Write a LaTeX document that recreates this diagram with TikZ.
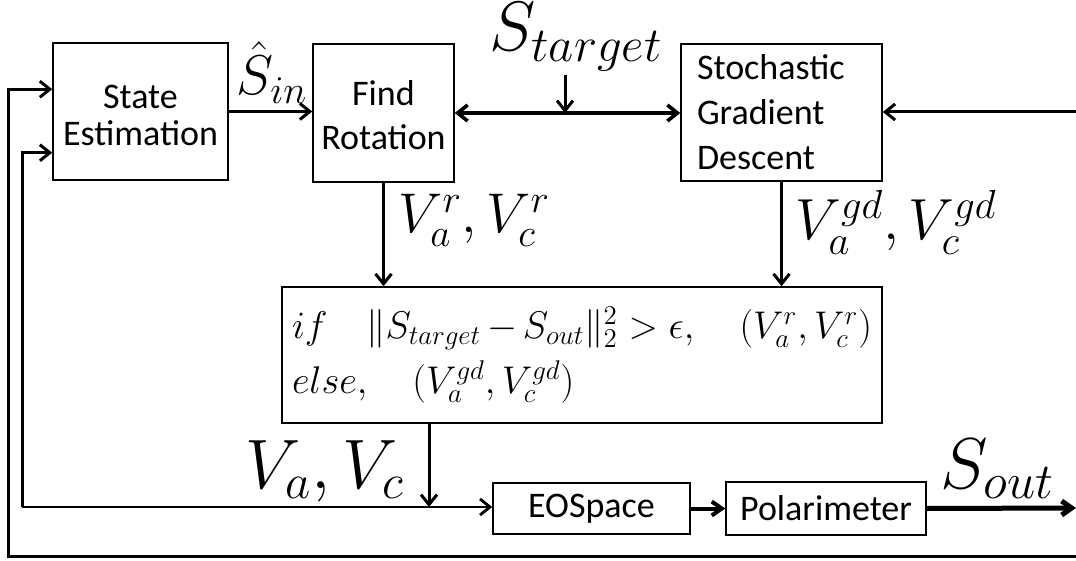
\RequirePackage{fix-cm}
\documentclass[tikz,border=0pt]{standalone}
\usepackage{fontspec}
\setsansfont{Carlito}
\usetikzlibrary{arrows.meta}

\tikzset{
    block/.style={draw, line width=0.75pt, inner sep=0pt, align=center,
        font=\sffamily\fontsize{18}{22}\selectfont},
    lbl/.style={inner sep=0pt},
    tip/.tip={Straight Barb[length=5pt, width=8pt]},
    flow/.style={line width=1.5pt, -tip},
    bigflow/.style={line width=2.5pt, -{Straight Barb[length=5pt, width=7pt]}},
    wire/.style={line width=1.4pt}
}

\begin{document}
\begin{tikzpicture}[x=0.5pt, y=-0.5pt, font=\sffamily]
    \useasboundingbox (0,0) rectangle (1076,561);

    % Blocks
    \node[block, minimum width=87.5pt, minimum height=68.5pt,
        font=\sffamily\fontsize{18}{18.5}\selectfont] (est) at (140.5,111.5) {\rule{0pt}{16pt}State\\Estimation};
    \node[block, minimum width=70.5pt, minimum height=69pt] (rot) at (383.5,113) {\rule{0pt}{15pt}Find\\Rotation};
    \node[block, minimum width=100.5pt, minimum height=68.5pt, align=left,
        text width=84.5pt, inner xsep=8pt,
        font=\sffamily\fontsize{18}{22.5}\selectfont] (sgd) at (781.5,112.5) {Stochastic\\Gradient\\Descent};
    \node[block, minimum width=300pt, minimum height=68pt, align=left,
        text width=290pt, inner xsep=5pt,
        font=\fontsize{19.3}{27.5}\selectfont] (cond) at (582,355)
        {$if\quad \|S_{target}-S_{out}\|_2^2>\epsilon,\quad (V_a^r,V_c^r)$\\
         $else,\quad (V_a^{gd},V_c^{gd})$};
    \node[block, minimum width=98.5pt, minimum height=25.5pt] (eos) at (591.5,508.5) {EOSpace};
    \node[block, minimum width=100pt, minimum height=26.5pt] (pol) at (826,508.5) {Polarimeter};

    % Labels
    \node[lbl, anchor=base, font=\fontsize{28}{28}\selectfont] (sin) at (272,95) {$\hat{S}_{in}$};
    \node[lbl, anchor=base, font=\fontsize{35}{35}\selectfont] (starget) at (576,51) {$S_{target}$};
    \node[lbl, anchor=base west, font=\fontsize{28}{28}\selectfont] (vr) at (398,233) {$V_a^r,V_c^r$};
    \node[lbl, anchor=base west, font=\fontsize{29}{29}\selectfont] (vgd) at (795,240) {$V_a^{gd},V_c^{gd}$};
    \node[lbl, anchor=base west, font=\fontsize{35}{35}\selectfont] (vac) at (245,488) {$V_a,V_c$};
    \node[lbl, anchor=base west, font=\fontsize{36}{36}\selectfont] (sout) at (940,488) {$S_{out}$};

    % Free ends of the connectors
    \coordinate (tgt) at (565,113);
    \coordinate (rin) at (1076,112);
    \coordinate (vin) at (429,507);
    \coordinate (fbA) at (22,507);
    \coordinate (fbB) at (1076,556);
    \coordinate (fbC) at (8,556);
    \coordinate (outR) at (1076,508);

    % Upper row
    \draw[flow] (est.east) -- (est.east -| rot.west);
    \draw[line width=1.8pt, tip-tip] (rot.east) -- (rot.east -| sgd.west);
    \draw[flow] (starget.south -| tgt) ++(0,4) -- (tgt);
    \draw[flow] (rin) -- (rin -| sgd.east);

    % Down to the selector
    \draw[flow] (rot.south) -- (rot.south |- cond.north);
    \draw[flow] (sgd.south) -- (sgd.south |- cond.north);
    \draw[flow] (cond.south -| vin) -- (vin);

    % Lower row
    \draw[wire, -tip] (fbA) -- (fbA -| eos.west);
    \draw[flow] (fbA) |- ([yshift=14pt]est.south west);
    \draw[bigflow, line width=2pt] (eos.east) -- (pol.west);
    \draw[bigflow] (pol.east) -- (outR);

    % Outer feedback
    \draw[flow] (fbB) -- (fbC) |- ([yshift=-23.5pt]est.north west);

\end{tikzpicture}
\end{document}
